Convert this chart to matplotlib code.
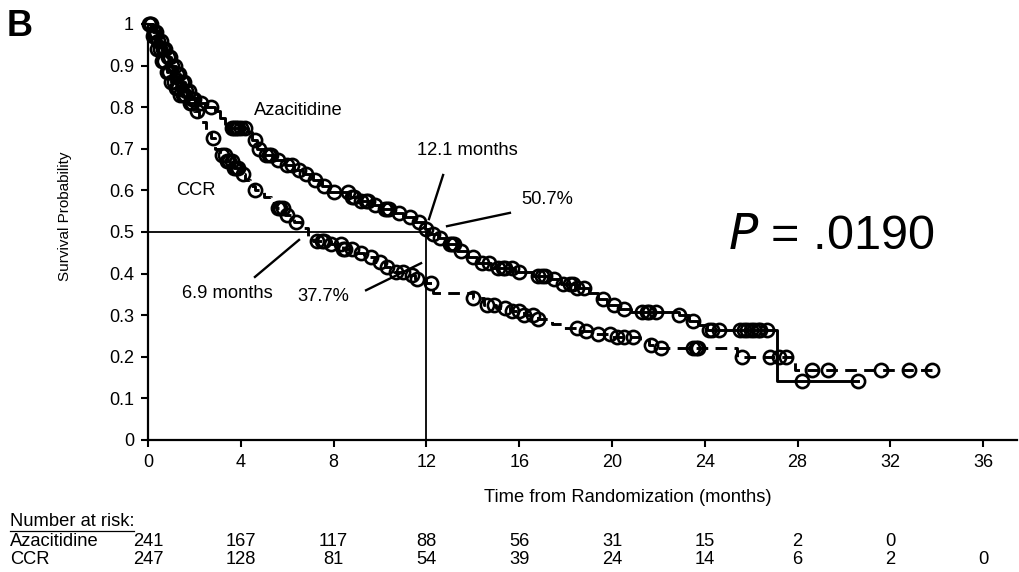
import matplotlib.pyplot as plt
import numpy as np
from matplotlib.lines import Line2D
from matplotlib.transforms import blended_transform_factory

plt.rcParams['font.family'] = ['Liberation Sans', 'DejaVu Sans']

# Kaplan-Meier steps (months, survival)
aza_t = [0, 0.2, 0.4, 0.6, 0.8, 1.0, 1.2, 1.4, 1.6, 1.8, 2.1, 2.5, 2.9, 3.1, 3.3, 3.5,
         4.3, 4.5, 4.7, 5.0, 5.4, 5.9, 6.3, 6.7, 7.1, 7.5, 7.8, 8.7, 9.1, 9.6, 10.1,
         10.6, 11.0, 11.5, 11.95, 12.1, 12.5, 12.9, 13.3, 13.8, 14.2, 14.8, 15.8, 16.6,
         17.3, 17.8, 18.4, 19.0, 19.4, 19.8, 20.3, 20.8, 22.9, 23.3, 23.7, 24.1, 27.1]
aza_s = [1.0, 0.98, 0.96, 0.94, 0.92, 0.90, 0.88, 0.86, 0.84, 0.82, 0.81, 0.80, 0.79,
         0.775, 0.76, 0.75, 0.74, 0.72, 0.70, 0.685, 0.673, 0.66, 0.65, 0.64, 0.625,
         0.61, 0.596, 0.585, 0.575, 0.565, 0.555, 0.545, 0.535, 0.524, 0.507, 0.495,
         0.485, 0.47, 0.455, 0.44, 0.425, 0.413, 0.405, 0.395, 0.388, 0.375, 0.365,
         0.353, 0.34, 0.325, 0.315, 0.308, 0.30, 0.285, 0.276, 0.265, 0.142]
aza_end = 30.6
aza_cens = [0.05, 0.15, 0.25, 0.35, 0.45, 0.55, 0.65, 0.75, 0.85, 0.95, 1.05, 1.15,
            1.25, 1.35, 1.45, 1.55, 1.65, 1.75, 1.9, 2.0, 2.3, 2.7, 3.6, 3.7, 3.8, 3.9,
            4.0, 4.2, 4.6, 4.8, 5.1, 5.2, 5.3, 5.6, 6.0, 6.2, 6.5, 6.8, 7.2, 7.6, 8.0,
            8.6, 8.8, 8.9, 9.2, 9.4, 9.5, 9.8, 10.2, 10.3, 10.4, 10.8, 11.3, 11.7, 12.0,
            12.3, 12.6, 13.0, 13.1, 13.2, 13.5, 14.0, 14.4, 14.7, 15.1, 15.3, 15.4, 15.7,
            16.0, 16.8, 17.0, 17.1, 17.5, 17.9, 18.2, 18.3, 18.5, 18.8, 19.6, 20.1,
            20.5, 21.3, 21.5, 21.6, 21.9, 22.9, 23.5, 24.2, 24.3, 24.6, 25.5, 25.7,
            25.8, 26.0, 26.1, 26.3, 26.4, 26.7, 28.2, 30.6]

ccr_t = [0, 0.2, 0.4, 0.6, 0.8, 1.0, 1.2, 1.4, 1.7, 2.0, 2.2, 2.5, 2.7, 2.9, 3.1, 3.4,
         3.7, 4.0, 4.2, 4.4, 4.6, 5.0, 5.3, 5.5, 5.9, 6.3, 6.6, 6.9, 7.1, 7.9, 8.4, 8.9,
         9.3, 9.8, 10.2, 10.6, 11.1, 11.5, 12.0, 12.3, 14.0, 14.5, 15.0, 15.6, 16.2,
         16.8, 17.4, 17.9, 18.6, 19.2, 20.0, 21.2, 21.6, 22.0, 25.4, 27.9]
ccr_s = [1.0, 0.97, 0.94, 0.91, 0.885, 0.86, 0.845, 0.83, 0.81, 0.79, 0.765, 0.74,
         0.725, 0.70, 0.685, 0.67, 0.655, 0.64, 0.625, 0.61, 0.60, 0.585, 0.57, 0.558,
         0.54, 0.524, 0.51, 0.49, 0.478, 0.47, 0.46, 0.45, 0.44, 0.428, 0.415, 0.405,
         0.397, 0.387, 0.377, 0.353, 0.341, 0.325, 0.318, 0.31, 0.30, 0.29, 0.28, 0.27,
         0.262, 0.255, 0.248, 0.24, 0.228, 0.222, 0.20, 0.168]
ccr_end = 33.8
ccr_cens = [0.1, 0.2, 0.3, 0.4, 0.5, 0.6, 0.7, 0.8, 0.9, 1.0, 1.1, 1.2, 1.3, 1.4, 1.5,
            1.6, 1.8, 1.9, 2.1, 2.8, 3.2, 3.3, 3.4, 3.5, 3.6, 3.7, 3.8, 3.9, 4.1, 4.6,
            5.6, 5.7, 5.8, 6.0, 6.4, 7.3, 7.5, 7.6, 7.9, 8.3, 8.4, 8.5, 8.8, 9.2, 9.6,
            10.0, 10.3, 10.7, 11.0, 11.4, 11.6, 12.2, 14.0, 14.6, 14.9, 15.4, 15.7,
            16.0, 16.2, 16.6, 16.8, 18.5, 18.9, 19.4, 19.9, 20.2, 20.5, 20.9, 21.7,
            22.1, 23.5, 23.6, 23.7, 25.6, 26.8, 27.2, 27.5, 28.6, 29.3, 31.6, 32.8,
            33.8]

x_ticks = [0, 4, 8, 12, 16, 20, 24, 28, 32, 36]
aza_risk = ['241', '167', '117', '88', '56', '31', '15', '2', '0', '']
ccr_risk = ['247', '128', '81', '54', '39', '24', '14', '6', '2', '0']


def km_curve(ax, t, s, end, cens, ls):
    tt = list(t) + [end]
    ss = list(s) + [s[-1]]
    ax.step(tt, ss, where='post', color='black', lw=2.1, linestyle=ls,
            clip_on=False, zorder=3)
    idx = np.searchsorted(t, cens, side='right') - 1
    ax.plot(cens, np.array(s)[idx], 'o', ms=9.5, mfc='none', mec='black', mew=1.9,
            clip_on=False, zorder=4)


fig = plt.figure(figsize=(10.19, 5.72), dpi=100)
ax = fig.add_axes([148 / 1019, 132 / 572, 869 / 1019, 416 / 572])

km_curve(ax, aza_t, aza_s, aza_end, aza_cens, '-')
km_curve(ax, ccr_t, ccr_s, ccr_end, ccr_cens, (0, (4, 2.5)))

# median guide lines
ax.plot([0, 12], [0.5, 0.5], color='black', lw=1.3, zorder=2)
ax.plot([12, 12], [0, 0.5], color='black', lw=1.3, zorder=2)

ax.set_xlim(0, 869 / 23.2)
ax.set_ylim(0, 1)
ax.set_xticks(x_ticks)
ax.set_yticks(np.arange(0, 1.01, 0.1))
ax.set_yticklabels(['0', '0.1', '0.2', '0.3', '0.4', '0.5', '0.6', '0.7', '0.8', '0.9', '1'])
for sp in ['top', 'right']:
    ax.spines[sp].set_visible(False)
for sp in ['left', 'bottom']:
    ax.spines[sp].set_linewidth(1.6)
ax.tick_params(direction='out', length=5, width=1.5, labelsize=13, pad=5)
ax.set_ylabel('Survival Probability', fontsize=11)
ax.yaxis.set_label_coords(-0.087, 0.538)

# annotations
fs = 13.2
ax.text(6.47, 0.793, 'Azacitidine', fontsize=fs, ha='center', va='center')
ax.text(2.07, 0.60, 'CCR', fontsize=fs, ha='center', va='center')
ax.text(13.75, 0.697, '12.1 months', fontsize=fs, ha='center', va='center')
ax.plot([12.72, 12.11], [0.637, 0.531], color='black', lw=1.7)
ax.text(17.2, 0.577, '50.7%', fontsize=fs, ha='center', va='center')
ax.plot([12.89, 15.6], [0.514, 0.546], color='black', lw=1.7)
ax.text(3.4, 0.353, '6.9 months', fontsize=fs, ha='center', va='center')
ax.plot([4.61, 6.51], [0.392, 0.481], color='black', lw=1.7)
ax.text(7.54, 0.346, '37.7%', fontsize=fs, ha='center', va='center')
ax.plot([9.4, 11.77], [0.36, 0.425], color='black', lw=1.7)
ax.text(25.0, 0.488, '$\\it{P}$ = .0190', fontsize=35, ha='left', va='center')

fig.text(20 / 1019, 1 - 27 / 572, 'B', fontsize=26, fontweight='bold',
         ha='center', va='center')
fig.text(628 / 1019, 1 - 497 / 572, 'Time from Randomization (months)',
         fontsize=13.2, ha='center', va='center')

# number at risk table
tfs = 13.2
fig.text(10 / 1019, 1 - 522 / 572, 'Number at risk:', fontsize=tfs, ha='left', va='center')
fig.add_artist(Line2D([10 / 1019, 134 / 1019], [1 - 531 / 572, 1 - 531 / 572],
                      color='black', lw=0.9))
fig.text(10 / 1019, 1 - 541 / 572, 'Azacitidine', fontsize=tfs, ha='left', va='center')
fig.text(10 / 1019, 1 - 560 / 572, 'CCR', fontsize=tfs, ha='left', va='center')
trans = blended_transform_factory(ax.transData, fig.transFigure)
for xt, a, c in zip(x_ticks, aza_risk, ccr_risk):
    ax.text(xt, 1 - 541 / 572, a, transform=trans, fontsize=tfs, ha='center', va='center')
    ax.text(xt, 1 - 560 / 572, c, transform=trans, fontsize=tfs, ha='center', va='center')

fig.savefig('out.png', dpi=100)
